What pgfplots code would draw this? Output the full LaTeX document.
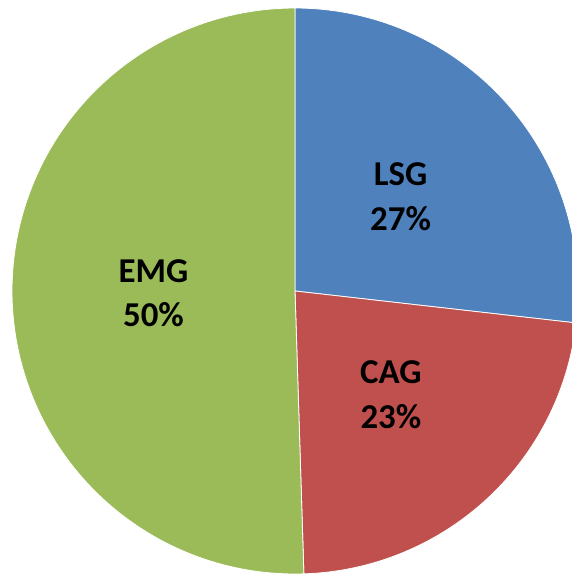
\documentclass[border=0pt]{standalone}
\usepackage{pgfplots}
\pgfplotsset{compat=1.18}
\usepackage{fontspec}
\setmainfont{Carlito}
\definecolor{cLSG}{HTML}{4F81BD}
\definecolor{cCAG}{HTML}{C0504D}
\definecolor{cEMG}{HTML}{9BBB59}
% slice shares (percent)
\def\vLSG{26.8}
\def\vCAG{22.7}
\def\vEMG{50.5}
\begin{document}
\begin{tikzpicture}
\pgfmathsetmacro{\aA}{90}
\pgfmathsetmacro{\aB}{90-3.6*\vLSG}
\pgfmathsetmacro{\aC}{\aB-3.6*\vCAG}
\pgfmathsetmacro{\aD}{\aC-3.6*\vEMG}
\pgfmathsetmacro{\mA}{(\aA+\aB)/2}
\pgfmathsetmacro{\mB}{(\aB+\aC)/2}
\pgfmathsetmacro{\mC}{(\aC+\aD)/2}
\begin{axis}[
  scale only axis, width=572bp, height=574bp,
  xmin=-1.0424, xmax=0.9788, ymin=-1.0, ymax=1.0283,
  hide axis, clip=true,
  every axis plot/.append style={line width=0.8pt, draw=white},
  samples=120,
]
\path (axis cs:-1.0424,-1.0) rectangle (axis cs:0.9788,1.0283);
\addplot[data cs=polar, fill=cLSG, domain=\aB:\aA] {1} -- (axis cs:0,0) -- cycle;
\addplot[data cs=polar, fill=cCAG, domain=\aC:\aB] {1} -- (axis cs:0,0) -- cycle;
\addplot[data cs=polar, fill=cEMG, domain=\aD:\aC] {1} -- (axis cs:0,0) -- cycle;
\tikzset{lbl/.style={font=\fontsize{35}{45}\selectfont\bfseries, align=center, text=black}}
\node[lbl] at (axis cs:{0.5*cos(\mA)},{0.5*sin(\mA)}) {LSG\\27\%};
\node[lbl] at (axis cs:{0.5*cos(\mB)},{0.5*sin(\mB)}) {CAG\\23\%};
\node[lbl] at (axis cs:{0.5*cos(\mC)},{0.5*sin(\mC)}) {EMG\\50\%};
\end{axis}
\end{tikzpicture}
\end{document}
